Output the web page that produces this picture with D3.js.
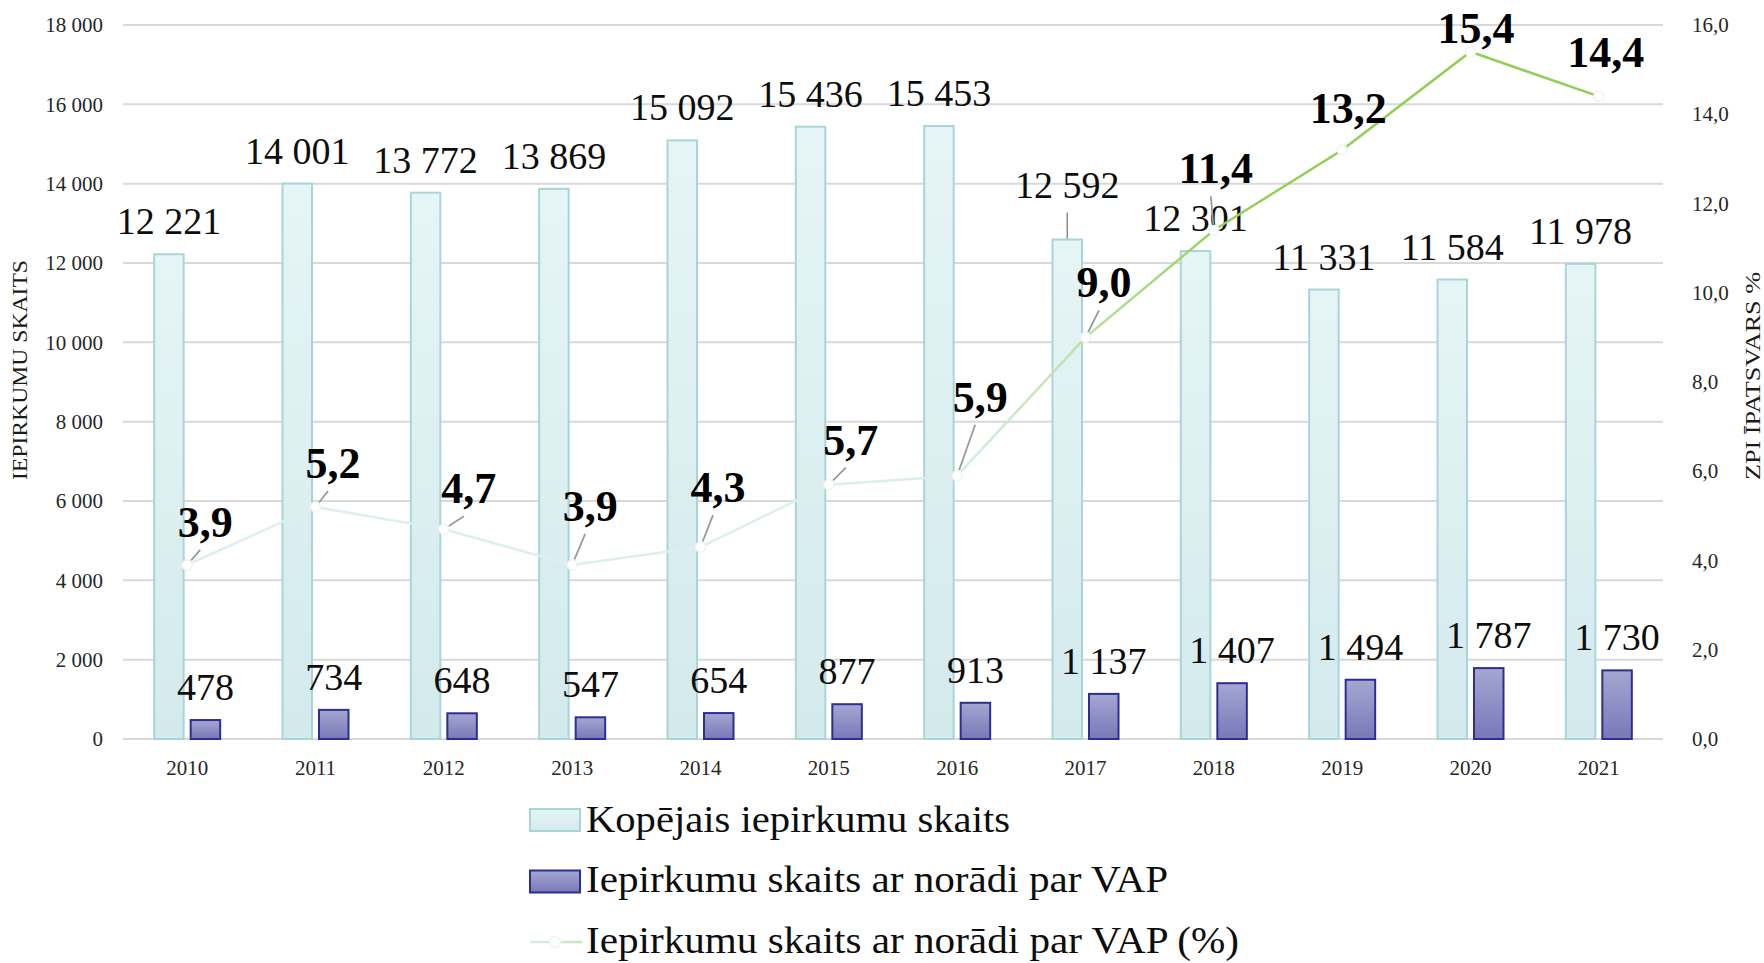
<!DOCTYPE html>
<html>
<head>
<meta charset="utf-8">
<script src="https://cdn.jsdelivr.net/npm/d3@7/dist/d3.min.js"></script>
<style>
  html, body { margin: 0; padding: 0; background: #ffffff; }
  svg { display: block; }
  text { font-family: "Liberation Serif", "Times New Roman", serif; }
</style>
</head>
<body>
<svg id="chart" width="1764" height="963"></svg>
<script>
// ---------- data ----------
const years = ["2010","2011","2012","2013","2014","2015","2016","2017","2018","2019","2020","2021"];
const totalCounts = [12221, 14001, 13772, 13869, 15092, 15436, 15453, 12592, 12301, 11331, 11584, 11978];
const vapCounts = [478, 734, 648, 547, 654, 877, 913, 1137, 1407, 1494, 1787, 1730];
const vapShare = [3.9, 5.2, 4.7, 3.9, 4.3, 5.7, 5.9, 9.0, 11.4, 13.2, 15.4, 14.4];
const leftTicks = [0, 2000, 4000, 6000, 8000, 10000, 12000, 14000, 16000, 18000];
const rightTicks = [0, 2, 4, 6, 8, 10, 12, 14, 16];
const seriesNames = ["Kopējais iepirkumu skaits", "Iepirkumu skaits ar norādi par VAP", "Iepirkumu skaits ar norādi par VAP (%)"];
const leftTitle = "IEPIRKUMU SKAITS";
const rightTitle = "ZPI ĪPATSVARS %";

// label placement offsets (layout only)
const pctLabelDx = [18, 17.5, 25, 18, 17.5, 22, 23, 18.5, 2, 6, 5.5, 7];
const pctLabelDy = [-28, -29, -26, -44, -45, -30, -64, -40, -47, -27, -9, -29];
const pctLeader = [true, true, true, true, true, true, true, true, true, false, false, false];
const totalLabelLift = [0, 0, 0, 0, 0, 0, 0, 22, 0, 0, 0, 0];

// ---------- setup ----------
const svg = d3.select("#chart");
const plotL = 123, plotR = 1663, plotT = 25, plotB = 739;

const x = d3.scaleBand().domain(years).range([plotL, plotR]).padding(0);
const yL = d3.scaleLinear().domain([0, 18000]).range([plotB, plotT]);
const yR = d3.scaleLinear().domain([0, 16]).range([plotB, plotT]);
const cx = d => x(d) + x.bandwidth() / 2;

const fmtThousands = v => d3.format(",")(v).replace(/,/g, " ");
const fmtPct = v => d3.format(".1f")(v).replace(".", ",");

const defs = svg.append("defs");
const gLight = defs.append("linearGradient").attr("id", "gLight").attr("x1", 0).attr("y1", 0).attr("x2", 0).attr("y2", 1);
gLight.append("stop").attr("offset", "0%").attr("stop-color", "#e6f5f6");
gLight.append("stop").attr("offset", "100%").attr("stop-color", "#d3eaed");
const gDark = defs.append("linearGradient").attr("id", "gDark").attr("x1", 0).attr("y1", 0).attr("x2", 0).attr("y2", 1);
gDark.append("stop").attr("offset", "0%").attr("stop-color", "#a6a6d2");
gDark.append("stop").attr("offset", "100%").attr("stop-color", "#7878b8");
const gLine = defs.append("linearGradient").attr("id", "gLine")
  .attr("gradientUnits", "userSpaceOnUse")
  .attr("x1", 0).attr("x2", 0).attr("y1", yR(5.5)).attr("y2", yR(12));
gLine.append("stop").attr("offset", "0%").attr("stop-color", "#dcf0f0");
gLine.append("stop").attr("offset", "45%").attr("stop-color", "#c3e4ae");
gLine.append("stop").attr("offset", "100%").attr("stop-color", "#8fcf52");
const gLeg = defs.append("linearGradient").attr("id", "gLeg")
  .attr("gradientUnits", "userSpaceOnUse")
  .attr("x1", 530).attr("x2", 582).attr("y1", 0).attr("y2", 0);
gLeg.append("stop").attr("offset", "0%").attr("stop-color", "#d6eeee");
gLeg.append("stop").attr("offset", "100%").attr("stop-color", "#c6e6b8");

// ---------- grid ----------
svg.append("g").selectAll("line").data(leftTicks).join("line")
  .attr("x1", plotL).attr("x2", plotR)
  .attr("y1", d => yL(d)).attr("y2", d => yL(d))
  .attr("stroke", "#d9d9d9").attr("stroke-width", 2);

// ---------- axes ----------
const axL = svg.append("g").attr("transform", `translate(${plotL - 20},0)`)
  .call(d3.axisLeft(yL).tickValues(leftTicks).tickFormat(fmtThousands).tickSize(0).tickPadding(0));
axL.select(".domain").remove();
axL.selectAll("text").attr("font-size", 21).attr("fill", "#262626")
  .attr("font-family", "Liberation Serif, Times New Roman, serif");

const axR = svg.append("g").attr("transform", `translate(${plotR + 29},0)`)
  .call(d3.axisRight(yR).tickValues(rightTicks).tickFormat(fmtPct).tickSize(0).tickPadding(0));
axR.select(".domain").remove();
axR.selectAll("text").attr("font-size", 21).attr("fill", "#262626")
  .attr("font-family", "Liberation Serif, Times New Roman, serif");

const axX = svg.append("g").attr("transform", `translate(0,${plotB + 21})`)
  .call(d3.axisBottom(x).tickSize(0).tickPadding(0));
axX.select(".domain").remove();
axX.selectAll("text").attr("font-size", 21).attr("fill", "#262626")
  .attr("font-family", "Liberation Serif, Times New Roman, serif");

// axis titles
svg.append("text").attr("transform", `translate(27,370) rotate(-90)`)
  .attr("text-anchor", "middle").attr("font-size", 20).attr("fill", "#1a1a1a")
  .attr("textLength", 220).attr("lengthAdjust", "spacingAndGlyphs")
  .text(leftTitle);
svg.append("text").attr("transform", `translate(1760,376) rotate(-90)`)
  .attr("text-anchor", "middle").attr("font-size", 20).attr("fill", "#1a1a1a")
  .attr("textLength", 208).attr("lengthAdjust", "spacingAndGlyphs")
  .text(rightTitle);

// ---------- bars ----------
const barW = 29.5;
svg.append("g").selectAll("rect").data(years).join("rect")
  .attr("x", (d) => cx(d) - 33).attr("width", barW)
  .attr("y", (d, i) => yL(totalCounts[i])).attr("height", (d, i) => yL(0) - yL(totalCounts[i]))
  .attr("fill", "url(#gLight)").attr("stroke", "#a9d5d9").attr("stroke-width", 2);

svg.append("g").selectAll("rect").data(years).join("rect")
  .attr("x", (d) => cx(d) + 3.5).attr("width", barW)
  .attr("y", (d, i) => yL(vapCounts[i])).attr("height", (d, i) => yL(0) - yL(vapCounts[i]))
  .attr("fill", "url(#gDark)").attr("stroke", "#2e2e92").attr("stroke-width", 2);

// bar labels
svg.append("g").selectAll("text").data(years).join("text")
  .attr("x", d => cx(d) - 33 + barW / 2)
  .attr("y", (d, i) => yL(totalCounts[i]) - 20 - totalLabelLift[i])
  .attr("text-anchor", "middle").attr("font-size", 38).attr("fill", "#0d0d0d")
  .text((d, i) => fmtThousands(totalCounts[i]));
// leader for lifted total labels
svg.append("g").selectAll("line").data(years.filter((d, i) => totalLabelLift[i] > 0)).join("line")
  .attr("x1", d => cx(d) - 33 + barW / 2).attr("x2", d => cx(d) - 33 + barW / 2)
  .attr("y1", d => yL(totalCounts[years.indexOf(d)]) - 27)
  .attr("y2", d => yL(totalCounts[years.indexOf(d)]) - 1)
  .attr("stroke", "#8c8c8c").attr("stroke-width", 1.5);

svg.append("g").selectAll("text").data(years).join("text")
  .attr("x", d => cx(d) + 3.5 + barW / 2)
  .attr("y", (d, i) => yL(vapCounts[i]) - 20)
  .attr("text-anchor", "middle").attr("font-size", 38).attr("fill", "#0d0d0d")
  .text((d, i) => fmtThousands(vapCounts[i]));

// ---------- line ----------
const line = d3.line().x((d, i) => cx(years[i])).y(d => yR(d));
svg.append("path").datum(vapShare).attr("d", line)
  .attr("fill", "none").attr("stroke", "url(#gLine)").attr("stroke-width", 2.5);

svg.append("g").selectAll("circle").data(vapShare).join("circle")
  .attr("cx", (d, i) => cx(years[i])).attr("cy", d => yR(d)).attr("r", 5)
  .attr("fill", "#ffffff").attr("stroke", "#eef4f0").attr("stroke-width", 1.5);

// leaders for pct labels
svg.append("g").selectAll("line").data(vapShare).join("line")
  .filter((d, i) => pctLeader[i])
  .each(function (d, i) {
    const px = cx(years[i]), py = yR(d);
    const ex = px + pctLabelDx[i] - 5, ey = py + pctLabelDy[i] + 13;
    const len = Math.hypot(ex - px, ey - py);
    const sx = px + (ex - px) * 6 / len, sy = py + (ey - py) * 6 / len;
    d3.select(this).attr("x1", sx).attr("y1", sy).attr("x2", ex).attr("y2", ey)
      .attr("stroke", "#9a9a9a").attr("stroke-width", 1.8);
  });

svg.append("g").selectAll("text").data(vapShare).join("text")
  .attr("x", (d, i) => cx(years[i]) + pctLabelDx[i])
  .attr("y", (d, i) => yR(d) + pctLabelDy[i])
  .attr("text-anchor", "middle").attr("font-size", 44).attr("font-weight", "bold").attr("fill", "#000")
  .text(d => fmtPct(d));

// ---------- legend ----------
const leg = svg.append("g");
const legRows = [820, 881.5, 942];
const legBase = [832, 892, 953];
const legLen = [424, 582, 653];
leg.append("rect").attr("x", 530).attr("y", legRows[0] - 11).attr("width", 50).attr("height", 22)
  .attr("fill", "url(#gLight)").attr("stroke", "#a9d5d9").attr("stroke-width", 2);
leg.append("rect").attr("x", 530).attr("y", legRows[1] - 11).attr("width", 50).attr("height", 22)
  .attr("fill", "url(#gDark)").attr("stroke", "#2e2e92").attr("stroke-width", 2);
leg.append("line").attr("x1", 530).attr("x2", 582).attr("y1", legRows[2]).attr("y2", legRows[2])
  .attr("stroke", "url(#gLeg)").attr("stroke-width", 2.5);
leg.append("circle").attr("cx", 555).attr("cy", legRows[2]).attr("r", 5.5)
  .attr("fill", "#fff").attr("stroke", "#eef4f0").attr("stroke-width", 1.5);
leg.selectAll("text.l").data(seriesNames).join("text").attr("class", "l")
  .attr("x", 586).attr("y", (d, i) => legBase[i])
  .attr("font-size", 37).attr("fill", "#0d0d0d")
  .attr("textLength", (d, i) => legLen[i]).attr("lengthAdjust", "spacingAndGlyphs")
  .text(d => d);
</script>
</body>
</html>
